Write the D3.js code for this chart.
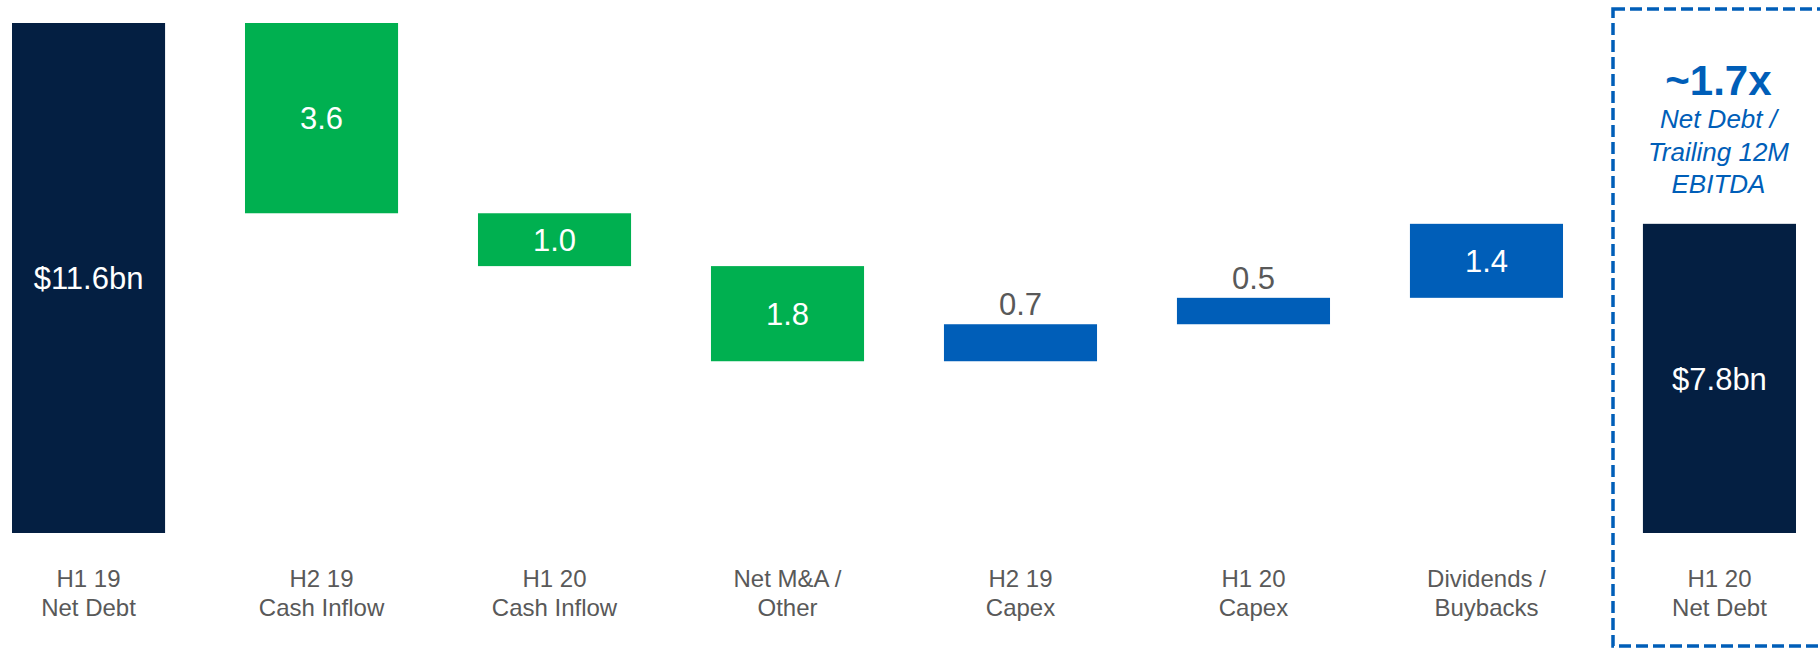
<!DOCTYPE html>
<html>
<head>
<meta charset="utf-8">
<script src="https://cdn.jsdelivr.net/npm/d3@7"></script>
<style>
    html, body { margin: 0; padding: 0; background: #fff; }
    svg { display: block; font-family: Arial, "Liberation Sans", sans-serif; }
</style>
</head>
<body>
<div id="chart"></div>
<script>
(function() {

    // waterfall steps, net debt in $bn
    var categories = ["H1 19|Net Debt", "H2 19|Cash Inflow", "H1 20|Cash Inflow", "Net M&A /|Other",
                      "H2 19|Capex", "H1 20|Capex", "Dividends /|Buybacks", "H1 20|Net Debt"];
    var values = [11.6, -3.6, -1.0, -1.8, 0.7, 0.5, 1.4, 7.8];
    var kinds = ["total", "down", "down", "down", "up", "up", "up", "total"];
    var valueLabels = ["$11.6bn", "3.6", "1.0", "1.8", "0.7", "0.5", "1.4", "$7.8bn"];
    var ratioLines = ["Net Debt /", "Trailing 12M", "EBITDA"];
    var ratioValue = "~1.7x";

    var colors = { total: "#041F42", down: "#00B050", up: "#005EB8" };

    var width = 1820,
        height = 648

    var svg = d3.select("#chart")
        .append("svg")
        .attr("width", width)
        .attr("height", height)

    // work out start / end of every bar
    var running = 0;
    var bars = values.map(function(v, i) {
        var d = { cat: categories[i], kind: kinds[i], label: valueLabels[i] };
        if (kinds[i] === "total") {
            d.start = null; d.end = v; running = v;
        } else {
            d.start = running; running = running + v; d.end = running;
        }
        return d;
    });

    var x = d3.scaleBand()
        .domain(categories)
        .range([12, 1796])
        .paddingInner(0.343)
        .paddingOuter(0)

    // base of the value axis is cut off (as in the original slide)
    var y = d3.scaleLinear()
        .domain([1.95, 11.6])
        .range([533, 23])

    var base = y.domain()[0];

    svg.append("g")
        .selectAll("rect")
        .data(bars)
        .enter()
        .append("rect")
        .attr("x", function(d) { return x(d.cat); })
        .attr("width", x.bandwidth())
        .attr("y", function(d) {
            return d.kind === "total" ? y(d.end) : y(Math.max(d.start, d.end));
        })
        .attr("height", function(d) {
            return d.kind === "total" ? y(base) - y(d.end) : Math.abs(y(d.start) - y(d.end));
        })
        .attr("fill", function(d) { return colors[d.kind]; })

    // value labels: inside when the bar is tall enough, above otherwise
    var fs = 31;
    svg.append("g")
        .selectAll("text")
        .data(bars)
        .enter()
        .append("text")
        .attr("x", function(d) { return x(d.cat) + x.bandwidth() / 2; })
        .attr("y", function(d) {
            var top = d.kind === "total" ? y(d.end) : y(Math.max(d.start, d.end));
            var bot = d.kind === "total" ? y(base) : y(Math.min(d.start, d.end));
            d.inside = (bot - top) > 45;
            return d.inside ? (top + bot) / 2 + fs * 0.36 : top - 9;
        })
        .attr("text-anchor", "middle")
        .attr("font-size", fs)
        .attr("fill", function(d) { return d.inside ? "#fff" : "#595959"; })
        .text(function(d) { return d.label; })

    // category labels (two lines)
    var cats = svg.append("g")
        .selectAll("text")
        .data(categories)
        .enter()
        .append("text")
        .attr("text-anchor", "middle")
        .attr("font-size", 24)
        .attr("fill", "#595959")

    cats.selectAll("tspan")
        .data(function(d) { return d.split("|").map(function(t) { return { t: t, c: d }; }); })
        .enter()
        .append("tspan")
        .attr("x", function(d) { return x(d.c) + x.bandwidth() / 2; })
        .attr("y", function(d, i) { return 587 + i * 29; })
        .text(function(d) { return d.t; })

    // dashed box around the closing net debt
    svg.append("rect")
        .attr("x", 1613)
        .attr("y", 9)
        .attr("width", 260)
        .attr("height", 637)
        .attr("fill", "none")
        .attr("stroke", "#005EB8")
        .attr("stroke-width", 3.5)
        .attr("stroke-dasharray", "12,5")

    var cx = x(categories[7]) + x.bandwidth() / 2 - 1;

    svg.append("text")
        .attr("x", cx)
        .attr("y", 95)
        .attr("text-anchor", "middle")
        .attr("font-size", 42)
        .attr("font-weight", "bold")
        .attr("fill", "#005EB8")
        .text(ratioValue)

    svg.append("g")
        .selectAll("text")
        .data(ratioLines)
        .enter()
        .append("text")
        .attr("x", cx)
        .attr("y", function(d, i) { return 128 + i * 32.5; })
        .attr("text-anchor", "middle")
        .attr("font-size", 26)
        .attr("font-style", "italic")
        .attr("fill", "#005EB8")
        .text(function(d) { return d; })

})();
</script>
</body>
</html>
